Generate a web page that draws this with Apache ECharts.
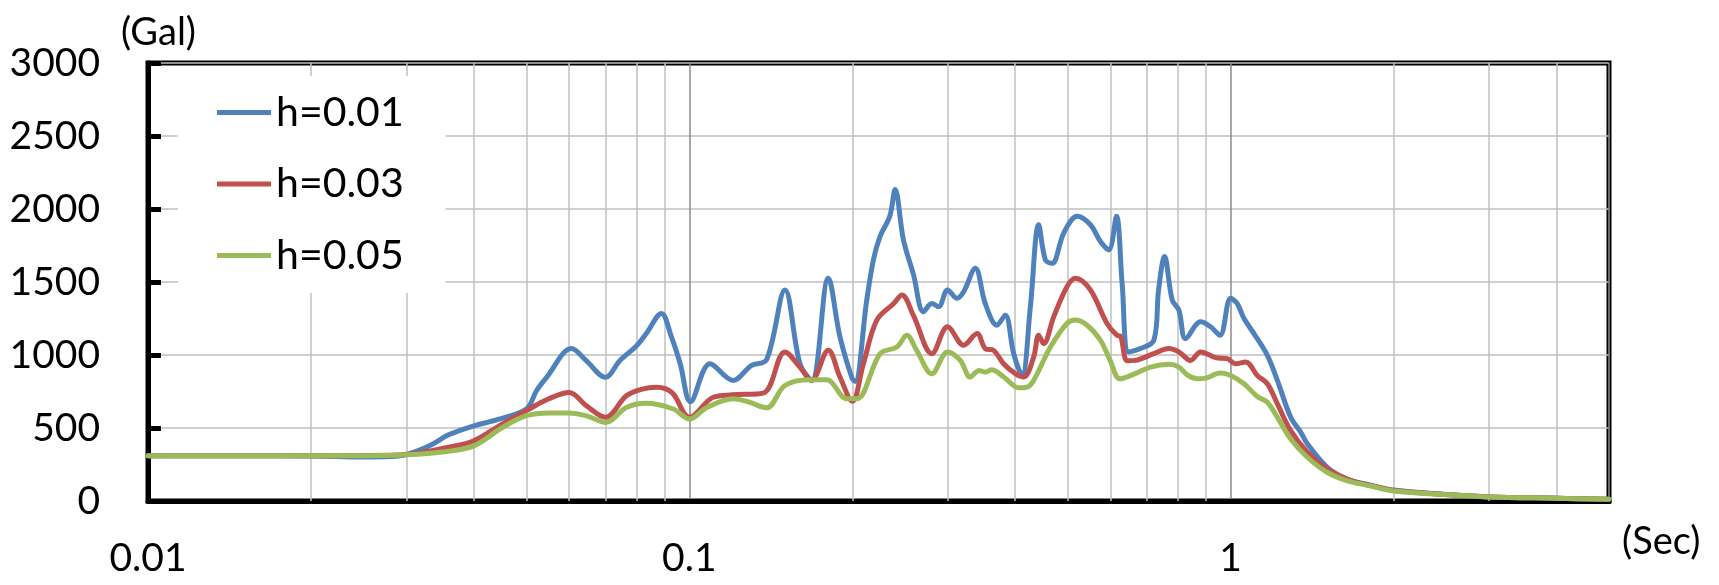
<!DOCTYPE html>
<html>
<head>
<meta charset="utf-8">
<script src="https://cdn.jsdelivr.net/npm/echarts@6/dist/echarts.min.js"></script>
<style>
  html, body { margin: 0; padding: 0; background: #fff; }
  #spectrumChart { width: 1719px; height: 585px; }
</style>
</head>
<body>
<div id="spectrumChart"></div>
<script>
// period (sec) / acceleration (Gal) pairs
var periodsH01 = [0.01, 0.015, 0.02, 0.025, 0.028, 0.03, 0.0331, 0.036, 0.04, 0.044, 0.05, 0.0522, 0.0545, 0.0606, 0.0645, 0.07, 0.0744, 0.08, 0.0832, 0.0888, 0.0927, 0.0962, 0.1005, 0.1092, 0.1205, 0.1303, 0.1389, 0.1502, 0.1601, 0.1683, 0.1806, 0.1898, 0.2, 0.2025, 0.2127, 0.2188, 0.2251, 0.2346, 0.24, 0.2486, 0.2595, 0.2708, 0.2806, 0.2886, 0.3, 0.3122, 0.3212, 0.3375, 0.3521, 0.37, 0.3834, 0.3974, 0.4117, 0.4266, 0.4419, 0.4548, 0.4679, 0.4917, 0.5205, 0.5508, 0.5747, 0.5955, 0.6153, 0.6303, 0.6484, 0.6816, 0.7214, 0.736, 0.755, 0.78, 0.8025, 0.8257, 0.8802, 0.9184, 0.9556, 1.0, 1.028, 1.0585, 1.1043, 1.169, 1.2199, 1.2912, 1.3479, 1.3869, 1.51, 1.644, 1.816, 2.0, 2.553, 3.0, 4.0, 5.0];
var accelH01 = [310, 310, 309, 302, 305, 318, 378, 455, 515, 555, 630, 755, 847, 1045, 961, 847, 961, 1065, 1145, 1285, 1122, 940, 680, 940, 826, 929, 968, 1445, 940, 826, 1525, 1124, 837, 820, 1376, 1651, 1812, 1950, 2134, 1789, 1550, 1296, 1353, 1330, 1445, 1388, 1433, 1594, 1353, 1204, 1273, 1009, 860, 1330, 1892, 1651, 1628, 1835, 1950, 1892, 1777, 1720, 1950, 1491, 1021, 1044, 1101, 1445, 1674, 1376, 1307, 1112, 1227, 1193, 1135, 1388, 1353, 1250, 1147, 998, 826, 573, 470, 390, 229, 149, 108, 75, 42, 28, 19, 12];

var periodsH03 = [0.01, 0.02, 0.025, 0.03, 0.0355, 0.04, 0.045, 0.05, 0.055, 0.06, 0.0645, 0.07, 0.0765, 0.0815, 0.087, 0.093, 0.1, 0.1107, 0.12, 0.137, 0.1502, 0.16, 0.168, 0.1806, 0.1898, 0.2, 0.2097, 0.222, 0.2386, 0.247, 0.2595, 0.2806, 0.3, 0.3212, 0.34, 0.3521, 0.3648, 0.3807, 0.4002, 0.4146, 0.4326, 0.4419, 0.4515, 0.4711, 0.4985, 0.517, 0.5508, 0.591, 0.617, 0.6258, 0.644, 0.666, 0.7214, 0.7688, 0.8025, 0.8434, 0.8802, 0.9382, 0.986, 1.02, 1.066, 1.1203, 1.169, 1.22, 1.291, 1.387, 1.51, 1.644, 1.816, 2.0, 2.553, 3.0, 4.0, 5.0];
var accelH03 = [310, 310, 311, 318, 365, 413, 525, 619, 700, 744, 653, 573, 721, 765, 779, 740, 573, 711, 727, 739, 1021, 917, 826, 1032, 849, 683, 940, 1239, 1353, 1411, 1270, 1009, 1193, 1067, 1147, 1044, 1032, 940, 872, 849, 986, 1135, 1078, 1261, 1468, 1525, 1445, 1216, 1135, 1130, 960, 963, 1009, 1044, 1021, 963, 1021, 982, 975, 940, 952, 860, 803, 665, 482, 333, 218, 149, 105, 72, 42, 28, 19, 12];

var periodsH05 = [0.01, 0.02, 0.025, 0.03, 0.035, 0.04, 0.045, 0.05, 0.055, 0.06, 0.065, 0.07, 0.0765, 0.0832, 0.0934, 0.1, 0.1079, 0.1205, 0.129, 0.1389, 0.1502, 0.1668, 0.1794, 0.1954, 0.2039, 0.2251, 0.2418, 0.2522, 0.263, 0.2806, 0.3, 0.3167, 0.3303, 0.343, 0.352, 0.362, 0.381, 0.406, 0.4205, 0.4326, 0.4646, 0.4985, 0.517, 0.543, 0.5747, 0.599, 0.6245, 0.666, 0.7112, 0.7688, 0.8025, 0.834, 0.868, 0.9, 0.958, 1.0, 1.0585, 1.12, 1.169, 1.22, 1.291, 1.387, 1.51, 1.644, 1.816, 2.0, 2.553, 3.0, 4.0, 5.0];
var accelH05 = [310, 310, 310, 316, 335, 378, 500, 584, 603, 603, 580, 538, 640, 669, 630, 562, 642, 700, 677, 638, 791, 830, 830, 700, 700, 1009, 1055, 1135, 1032, 872, 1021, 963, 849, 894, 883, 899, 849, 775, 780, 826, 1055, 1216, 1239, 1204, 1101, 963, 837, 872, 917, 936, 917, 860, 837, 842, 876, 860, 803, 716, 677, 573, 424, 298, 195, 138, 103, 69, 42, 28, 19, 12];

var seriesNames = ['h=0.01', 'h=0.03', 'h=0.05'];
var seriesColors = ['#4f81bd', '#c0504d', '#9bbb59'];

// x axis: labelled decades and the light gridlines between them
var majorPeriods = [0.01, 0.1, 1];
var majorLabels = ['0.01', '0.1', '1'];
var minorPeriods = [0.02, 0.03, 0.04, 0.05, 0.06, 0.07, 0.08, 0.09,
                    0.2, 0.3, 0.4, 0.5, 0.6, 0.7, 0.8, 0.9,
                    2, 3, 4];

var FONT = 'Lato';

function pairUp(xs, ys) {
  var out = [];
  for (var i = 0; i < xs.length; i++) {
    out.push([xs[i], ys[i]]);
  }
  return out;
}

function makeSeries(idx, xs, ys) {
  return {
    name: seriesNames[idx],
    type: 'line',
    symbol: 'none',
    smooth: 0.35,
    color: seriesColors[idx],
    lineStyle: { width: 5, color: seriesColors[idx], cap: 'round', join: 'round' },
    emphasis: { disabled: true },
    data: pairUp(xs, ys)
  };
}

var chart = echarts.init(document.getElementById('spectrumChart'), null, { renderer: 'canvas' });

var blue = makeSeries(0, periodsH01, accelH01);
// vertical minor gridlines, placed through the log axis
blue.markLine = {
  silent: true,
  z: 1,
  symbol: 'none',
  animation: false,
  label: { show: false },
  emphasis: { disabled: true },
  lineStyle: { color: '#c0c0c0', width: 1.5, type: 'solid' },
  data: minorPeriods.map(function (p) { return { xAxis: p }; })
};

var option = {
  animation: false,
  backgroundColor: '#ffffff',
  grid: {
    left: 148,
    right: 110,
    top: 63,
    bottom: 84,
    show: true,
    borderColor: '#000',
    borderWidth: 5,
    backgroundColor: 'transparent'
  },
  legend: {
    orient: 'vertical',
    left: 178,
    top: 76,
    padding: [16, 42, 17, 39],
    backgroundColor: '#ffffff',
    icon: 'rect',
    itemWidth: 54,
    itemHeight: 5,
    itemGap: 30.5,
    textStyle: { fontFamily: FONT, fontSize: 41, color: '#000', lineHeight: 40 },
    data: seriesNames
  },
  xAxis: {
    type: 'log',
    logBase: 10,
    min: 0.01,
    max: 5,
    axisLine: { show: true, lineStyle: { color: '#000', width: 5 } },
    axisTick: { show: false },
    axisLabel: {
      margin: 38,
      fontFamily: FONT,
      fontSize: 39,
      color: '#000',
      formatter: function (v) {
        for (var i = 0; i < majorPeriods.length; i++) {
          if (Math.abs(v - majorPeriods[i]) / majorPeriods[i] < 1e-6) return majorLabels[i];
        }
        return '';
      }
    },
    splitLine: { show: true, lineStyle: { color: '#8c8c8c', width: 1.5 } }
  },
  yAxis: {
    type: 'value',
    min: 0,
    max: 3000,
    interval: 500,
    axisLine: { show: true, lineStyle: { color: '#000', width: 5 } },
    axisTick: { show: true, inside: true, length: 13, lineStyle: { color: '#000', width: 5 } },
    axisLabel: {
      margin: 48,
      fontFamily: FONT,
      fontSize: 39,
      color: '#000',
      formatter: function (v) { return String(v); }
    },
    splitLine: { show: true, lineStyle: { color: '#c0c0c0', width: 1.5 } }
  },
  graphic: [
    { type: 'text', left: 121, top: 14, style: { text: '(Gal)', font: '38px ' + FONT, fill: '#000' } },
    { type: 'text', left: 1622, top: 523, style: { text: '(Sec)', font: '38px ' + FONT, fill: '#000' } }
  ],
  series: [
    blue,
    makeSeries(1, periodsH03, accelH03),
    makeSeries(2, periodsH05, accelH05)
  ]
};

chart.setOption(option);
</script>
</body>
</html>
